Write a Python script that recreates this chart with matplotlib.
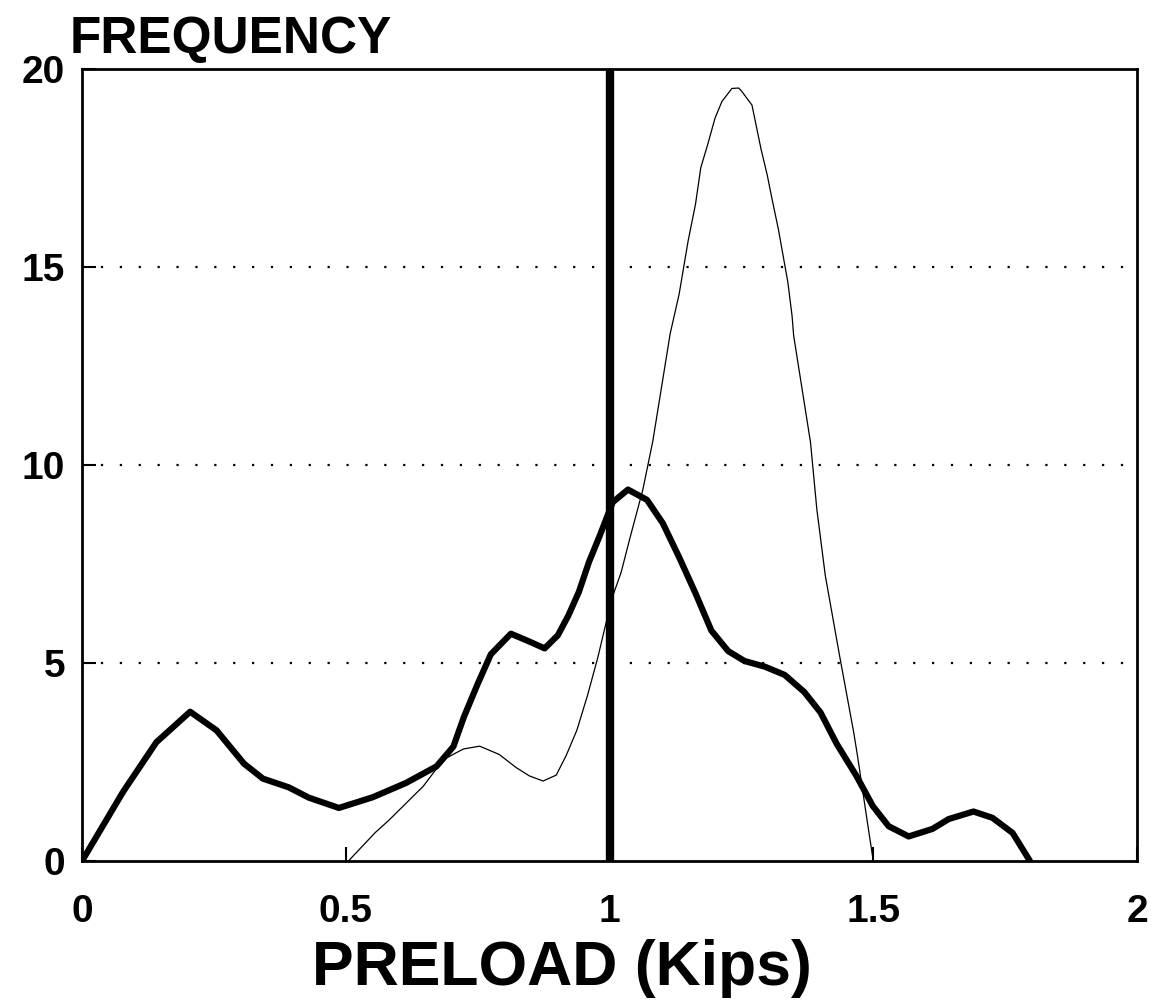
import matplotlib
matplotlib.use("Agg")
import matplotlib.pyplot as plt

# Measured preload distribution (heavy curve)
preload_measured = [0.000, 0.078, 0.141, 0.205, 0.255, 0.307, 0.343, 0.392, 0.430,
                    0.487, 0.551, 0.614, 0.672, 0.704, 0.724, 0.750, 0.775, 0.813,
                    0.845, 0.877, 0.902, 0.922, 0.942, 0.961, 0.981, 1.006, 1.035,
                    1.071, 1.101, 1.132, 1.163, 1.193, 1.225, 1.256, 1.294, 1.332,
                    1.369, 1.400, 1.431, 1.468, 1.499, 1.529, 1.567, 1.612, 1.643,
                    1.690, 1.726, 1.764, 1.797]
freq_measured = [0.00, 1.75, 3.00, 3.77, 3.30, 2.46, 2.08, 1.86, 1.60,
                 1.34, 1.61, 1.97, 2.39, 2.89, 3.64, 4.47, 5.22, 5.74,
                 5.56, 5.37, 5.70, 6.20, 6.80, 7.55, 8.20, 9.06, 9.38,
                 9.12, 8.53, 7.67, 6.76, 5.82, 5.30, 5.05, 4.91, 4.70,
                 4.27, 3.75, 2.95, 2.15, 1.39, 0.88, 0.62, 0.81, 1.06,
                 1.25, 1.09, 0.71, 0.00]

# Second preload distribution (light curve)
preload_second = [0.505, 0.556, 0.581, 0.647, 0.685, 0.723, 0.754, 0.791, 0.823,
                  0.848, 0.874, 0.899, 0.918, 0.938, 0.958, 0.978, 1.004, 1.022,
                  1.038, 1.063, 1.082, 1.115, 1.132, 1.149, 1.163, 1.173, 1.186,
                  1.200, 1.213, 1.232, 1.245, 1.251, 1.270, 1.287, 1.299, 1.308,
                  1.320, 1.329, 1.338, 1.346, 1.349, 1.381, 1.393, 1.409, 1.436,
                  1.463, 1.470, 1.489, 1.500]
freq_second = [0.00, 0.72, 1.02, 1.89, 2.56, 2.83, 2.90, 2.69, 2.36,
               2.15, 2.02, 2.17, 2.67, 3.30, 4.17, 5.15, 6.61, 7.29,
               8.12, 9.37, 10.60, 13.32, 14.32, 15.66, 16.59, 17.51, 18.09,
               18.76, 19.18, 19.51, 19.52, 19.43, 19.09, 17.99, 17.32, 16.72,
               15.96, 15.29, 14.62, 13.77, 13.27, 10.57, 8.88, 7.21, 5.19,
               3.24, 2.66, 0.96, 0.00]

reference_preload = 1.0

x_ticks = [0, 0.5, 1, 1.5, 2]
x_tick_labels = ["0", "0.5", "1", "1.5", "2"]
y_ticks = [0, 5, 10, 15, 20]
y_tick_labels = ["0", "5", "10", "15", "20"]
grid_levels = [5, 10, 15]

plt.rcParams['font.family'] = ['Liberation Sans', 'DejaVu Sans']

fig = plt.figure(figsize=(11.63, 10.02), dpi=100)
ax = fig.add_axes([0.0705, 0.1407, 0.9072, 0.7904])
ax.set_xlim(0, 2)
ax.set_ylim(0, 20)

for level in grid_levels:
    ax.axhline(level, color='black', lw=1.6, linestyle=(0, (1, 7.5)), zorder=1)

ax.plot(preload_second, freq_second, color='black', lw=0.9, zorder=2)
ax.plot(preload_measured, freq_measured, color='black', lw=4.5,
        solid_joinstyle='round', solid_capstyle='round', zorder=3)
ax.axvline(reference_preload, color='black', lw=6, zorder=4)

ax.set_xticks(x_ticks, x_tick_labels)
ax.set_yticks(y_ticks, y_tick_labels)
ax.tick_params(direction='in', length=10, width=1.5, labelsize=28)
ax.tick_params(axis='x', pad=24)
ax.tick_params(axis='y', pad=12)
for lbl in ax.get_xticklabels() + ax.get_yticklabels():
    lbl.set_fontweight('bold')
for spine in ax.spines.values():
    spine.set_linewidth(2)

fig.text(70 / 1163, 1 - 53 / 1002, "FREQUENCY", fontsize=37, fontweight='bold',
         ha='left', va='baseline')
fig.text(562 / 1163, 1 - 985 / 1002, "PRELOAD (Kips)", fontsize=45, fontweight='bold',
         ha='center', va='baseline')

fig.savefig('out.png', dpi=100)
